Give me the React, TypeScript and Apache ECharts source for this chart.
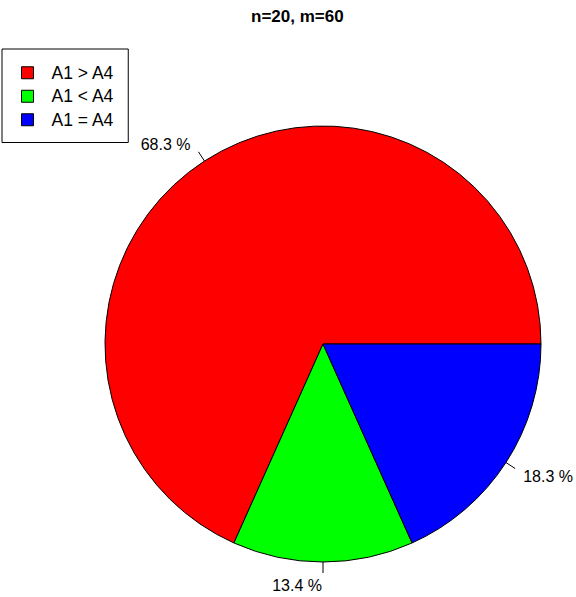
import React, { useEffect, useRef } from "react";
import * as echarts from "echarts";

const titleText = "n=20, m=60";
const categories = ["A1 > A4", "A1 < A4", "A1 = A4"];
const percents = [68.3, 13.4, 18.3];
const colors = ["#FF0000", "#00FF00", "#0000FF"];

const FONT = "Arial, 'Liberation Sans', sans-serif";

// per-slice label placement tweaks (R-style label at 1.1 radius)
const labelBlankBefore = [false, true, true];
const labelLineHeights = [15.4, 25.4, 15.4];
const labelDist = [8, 1, 8];

export default function App() {
  const ref = useRef<HTMLDivElement>(null);
  useEffect(() => {
    const chart = echarts.init(ref.current!, null, { renderer: "svg" });
    chart.setOption({
      animation: false,
      backgroundColor: "#FFFFFF",
      title: {
        text: titleText,
        left: 246,
        top: 3,
        textStyle: { fontFamily: FONT, fontWeight: "bold", fontSize: 17, color: "#000" },
      },
      legend: {
        orient: "vertical",
        left: 2,
        top: 49,
        padding: [12, 14, 11, 19],
        borderColor: "#000",
        borderWidth: 1,
        borderRadius: 0,
        icon: "rect",
        itemWidth: 12,
        itemHeight: 12,
        itemGap: 0,
        selectedMode: false,
        itemStyle: { borderColor: "#000", borderWidth: 1 },
        textStyle: {
          fontFamily: FONT,
          fontSize: 17.5,
          color: "#000",
          lineHeight: 17.5,
          padding: [6, 0, 0, 13],
        },
        data: categories,
      },
      series: [
        {
          type: "pie",
          center: [323, 344],
          radius: 218,
          startAngle: 0,
          clockwise: false,
          avoidLabelOverlap: false,
          silent: true,
          itemStyle: { borderColor: "#000", borderWidth: 1 },
          labelLine: {
            show: true,
            length: 11,
            length2: 0,
            smooth: false,
            lineStyle: { color: "#000", width: 1 },
          },
          label: {
            show: true,
            position: "outside",
            fontFamily: FONT,
            fontSize: 16,
            color: "#000",
          },
          data: categories.map((name, i) => ({
            name,
            value: percents[i],
            itemStyle: { color: colors[i] },
            label: {
              formatter: labelBlankBefore[i]
                ? "\n" + percents[i] + " %"
                : percents[i] + " %\n",
              lineHeight: labelLineHeights[i],
              distanceToLabelLine: labelDist[i],
            },
          })),
        },
      ],
    });
    return () => chart.dispose();
  }, []);
  return (
    <div
      ref={ref}
      style={{ position: "fixed", left: 0, top: 0, width: 576, height: 597 }}
    />
  );
}
